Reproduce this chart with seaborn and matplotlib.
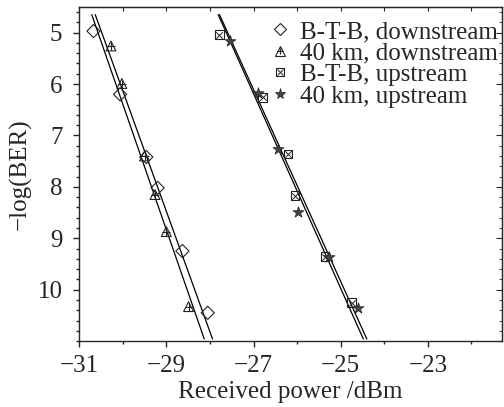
import matplotlib
matplotlib.use("Agg")
import matplotlib.pyplot as plt
from matplotlib.lines import Line2D
from matplotlib.ticker import MultipleLocator
import numpy as np
import pandas as pd
import seaborn as sns

btb_down_x = [-30.67, -30.06, -29.46, -29.20, -28.63, -28.05]
btb_down_y = [4.97, 6.20, 7.42, 8.02, 9.25, 10.45]
km40_down_x = [-30.27, -30.02, -29.50, -29.26, -29.00, -28.49]
km40_down_y = [5.26, 5.99, 7.40, 8.15, 8.87, 10.33]
btb_up_x = [-27.78, -26.79, -26.21, -26.05, -25.36, -24.75]
btb_up_y = [5.04, 6.26, 7.36, 8.17, 9.36, 10.25]
km40_up_x = [-27.55, -26.89, -26.44, -25.97, -25.26, -24.60]
km40_up_y = [5.17, 6.17, 7.26, 8.48, 9.36, 10.35]

# fitted lines (end points)
fit_btb_down_x = [-30.63, -27.94]
fit_km40_down_x = [-30.71, -28.13]
fit_btb_up_x = [-27.81, -24.48]
fit_km40_up_x = [-27.78, -24.40]
fit_y = [4.65, 10.96]

x_ticks = [-31, -29, -27, -25, -23]
y_ticks = [5, 6, 7, 8, 9, 10]

labels = ["B-T-B, downstream", "40 km, downstream",
          "B-T-B, upstream", "40 km, upstream"]

sns.set_style("ticks")
plt.rcParams['font.family'] = ['Liberation Serif', 'DejaVu Serif']
plt.rcParams['font.size'] = 18

fig, ax = plt.subplots(figsize=(5.04, 4.07), dpi=100)
fig.subplots_adjust(left=0.157, right=0.996, bottom=0.162, top=0.983)

for fx in [fit_btb_down_x, fit_km40_down_x, fit_btb_up_x, fit_km40_up_x]:
    sns.lineplot(x=fx, y=fit_y, sort=False, color='black', lw=0.9, ax=ax)

k = dict(ax=ax, legend=False, zorder=3)
sns.scatterplot(x=btb_down_x, y=btb_down_y, marker='D', s=45,
                facecolor='none', edgecolor='#222222', linewidth=0.8, **k)
sns.scatterplot(x=km40_down_x, y=km40_down_y, marker='^', s=50,
                facecolor='none', edgecolor='#222222', linewidth=0.8, **k)
sns.scatterplot(x=km40_down_x, y=km40_down_y, marker='+', s=30,
                color='#222222', linewidth=0.8, **k)
sns.scatterplot(x=btb_up_x, y=btb_up_y, marker='s', s=40,
                facecolor='none', edgecolor='#222222', linewidth=0.8, **k)
sns.scatterplot(x=btb_up_x, y=btb_up_y, marker='x', s=22,
                color='#222222', linewidth=0.7, **k)
sns.scatterplot(x=km40_up_x, y=km40_up_y, marker='*', s=70,
                color='#444444', edgecolor='#222222', linewidth=0.5, **k)

h_d = Line2D([], [], ls='none', marker='D', ms=6, mfc='none', mec='#222222', mew=0.8)
h_t = (Line2D([], [], ls='none', marker='^', ms=7, mfc='none', mec='#222222', mew=0.8),
       Line2D([], [], ls='none', marker='+', ms=5, color='#222222', mew=0.8))
h_s = (Line2D([], [], ls='none', marker='s', ms=6, mfc='none', mec='#222222', mew=0.8),
       Line2D([], [], ls='none', marker='x', ms=4.5, color='#222222', mew=0.7))
h_st = Line2D([], [], ls='none', marker='*', ms=8, color='#444444', mec='#222222', mew=0.5)
ax.legend([h_d, h_t, h_s, h_st], labels, loc='upper right',
          bbox_to_anchor=(1.022, 1.0), frameon=False, fontsize=18,
          handlelength=1.0, handletextpad=0.3, labelspacing=-0.04,
          borderaxespad=0.1, borderpad=0.45)

ax.set_xlim(-31, -21.3)
ax.set_ylim(11, 4.5)
ax.set_xticks(x_ticks)
ax.xaxis.set_minor_locator(MultipleLocator(1))
ax.set_yticks(y_ticks)
ax.yaxis.set_minor_locator(MultipleLocator(0.2))
ax.tick_params(which='both', direction='out', width=1.0, labelsize=18)
ax.tick_params(which='major', length=4)
ax.tick_params(which='minor', length=2.5)
ax.tick_params(axis='x', pad=6)
ax.tick_params(axis='y', pad=8)

secx = ax.secondary_xaxis('top')
secx.xaxis.set_major_locator(MultipleLocator(1))
secx.tick_params(direction='in', length=3, labeltop=False)
secy = ax.secondary_yaxis('right')
secy.yaxis.set_major_locator(MultipleLocator(1))
secy.yaxis.set_minor_locator(MultipleLocator(0.2))
secy.tick_params(which='both', direction='in', labelright=False)
secy.tick_params(which='major', length=4)
secy.tick_params(which='minor', length=2.5)

for sp in ax.spines.values():
    sp.set_linewidth(1.0)

ax.set_xlabel("Received power /dBm", fontsize=18, labelpad=3)
ax.set_ylabel("\u2212log(BER)", fontsize=18, labelpad=4)

fig.savefig("out.png", dpi=100)
